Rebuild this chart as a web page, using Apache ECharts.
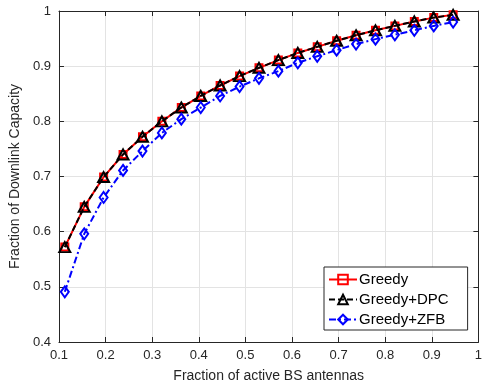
<!DOCTYPE html>
<html>
<head>
<meta charset="utf-8">
<script src="https://cdn.jsdelivr.net/npm/echarts@6/dist/echarts.min.js"></script>
<style>html,body{margin:0;padding:0;background:#fff;}#c{width:485px;height:388px;}</style>
</head>
<body>
<div id="c"></div>
<script>
const xValues = [0.1125, 0.1542, 0.1958, 0.2375, 0.2792, 0.3208, 0.3625, 0.4042, 0.4458, 0.4875, 0.5292, 0.5708, 0.6125, 0.6542, 0.6958, 0.7375, 0.7792, 0.8208, 0.8625, 0.9042, 0.9458];
const greedy    = [0.572, 0.645, 0.699, 0.740, 0.772, 0.800, 0.825, 0.846, 0.865, 0.882, 0.897, 0.911, 0.924, 0.935, 0.946, 0.956, 0.965, 0.973, 0.981, 0.988, 0.993];
const greedyDPC = [0.572, 0.645, 0.699, 0.740, 0.772, 0.800, 0.825, 0.846, 0.865, 0.882, 0.897, 0.911, 0.924, 0.935, 0.946, 0.956, 0.965, 0.973, 0.981, 0.988, 0.993];
const greedyZFB = [0.491, 0.596, 0.662, 0.711, 0.746, 0.779, 0.804, 0.825, 0.846, 0.863, 0.878, 0.891, 0.906, 0.918, 0.929, 0.940, 0.949, 0.957, 0.965, 0.973, 0.980];
const seriesNames = ['Greedy', 'Greedy+DPC', 'Greedy+ZFB'];
const xLabel = 'Fraction of active BS antennas';
const yLabel = 'Fraction of Downlink Capacity';

const pair = ys => xValues.map((x, i) => [x, ys[i]]);
const font = '"Liberation Sans", Arial, Helvetica, sans-serif';
const axisColor = '#262626';

const chart = echarts.init(document.getElementById('c'), null, {renderer: 'canvas'});
const baseAxis = {
  axisLine: {show: true, onZero: false, lineStyle: {color: axisColor, width: 1}},
  axisTick: {show: true, inside: true, length: 5, lineStyle: {color: axisColor}},
  splitLine: {show: true, lineStyle: {color: '#e3e3e3', width: 1}},
  axisLabel: {color: axisColor, fontSize: 13, fontFamily: font},
};
chart.setOption({
  animation: false,
  backgroundColor: '#fff',
  grid: {left: 58, right: 2, top: 11, bottom: 42, containLabel: false},
  xAxis: [
    Object.assign({}, baseAxis, {type: 'value', min: 0.1, max: 1, interval: 0.1, position: 'bottom',
      name: xLabel, nameLocation: 'middle', nameGap: 27,
      nameTextStyle: {color: axisColor, fontSize: 14, fontFamily: font},
      axisLabel: {color: axisColor, fontSize: 13, fontFamily: font, margin: 7}}),
    Object.assign({}, baseAxis, {type: 'value', min: 0.1, max: 1, interval: 0.1, position: 'top',
      axisLabel: {show: false}, splitLine: {show: false}})
  ],
  yAxis: [
    Object.assign({}, baseAxis, {type: 'value', min: 0.4, max: 1, interval: 0.1, position: 'left',
      name: yLabel, nameLocation: 'middle', nameGap: 32,
      nameTextStyle: {color: axisColor, fontSize: 14, fontFamily: font},
      axisLabel: {color: axisColor, fontSize: 13, fontFamily: font, margin: 8}}),
    Object.assign({}, baseAxis, {type: 'value', min: 0.4, max: 1, interval: 0.1, position: 'right',
      axisLabel: {show: false}, splitLine: {show: false}})
  ],
  legend: {
    orient: 'vertical', left: 324, top: 267,
    backgroundColor: '#fff', borderColor: axisColor, borderWidth: 1, borderRadius: 0,
    padding: [5, 19, 3, 4], itemGap: 5, itemWidth: 28, itemHeight: 12,
    textStyle: {color: '#000', fontSize: 15, fontFamily: font, padding: [0, 0, 0, -3]},
    data: seriesNames
  },
  series: [
    {name: seriesNames[0], type: 'line', data: pair(greedy), symbol: 'rect', symbolSize: 7,
     lineStyle: {color: '#ff0000', width: 2, type: 'solid'},
     itemStyle: {color: 'rgba(255,255,255,0)', borderColor: '#ff0000', borderWidth: 2}, z: 2},
    {name: seriesNames[1], type: 'line', data: pair(greedyDPC), symbol: 'triangle', symbolSize: [11, 10],
     lineStyle: {color: '#000000', width: 2, type: [6, 3]},
     itemStyle: {color: 'rgba(255,255,255,0)', borderColor: '#000000', borderWidth: 2}, z: 3},
    {name: seriesNames[2], type: 'line', data: pair(greedyZFB), symbol: 'diamond', symbolSize: [8, 11],
     lineStyle: {color: '#0000ff', width: 2, type: [7, 3, 2, 3]},
     itemStyle: {color: 'rgba(255,255,255,0)', borderColor: '#0000ff', borderWidth: 2}, z: 4}
  ]
});
</script>
</body>
</html>
